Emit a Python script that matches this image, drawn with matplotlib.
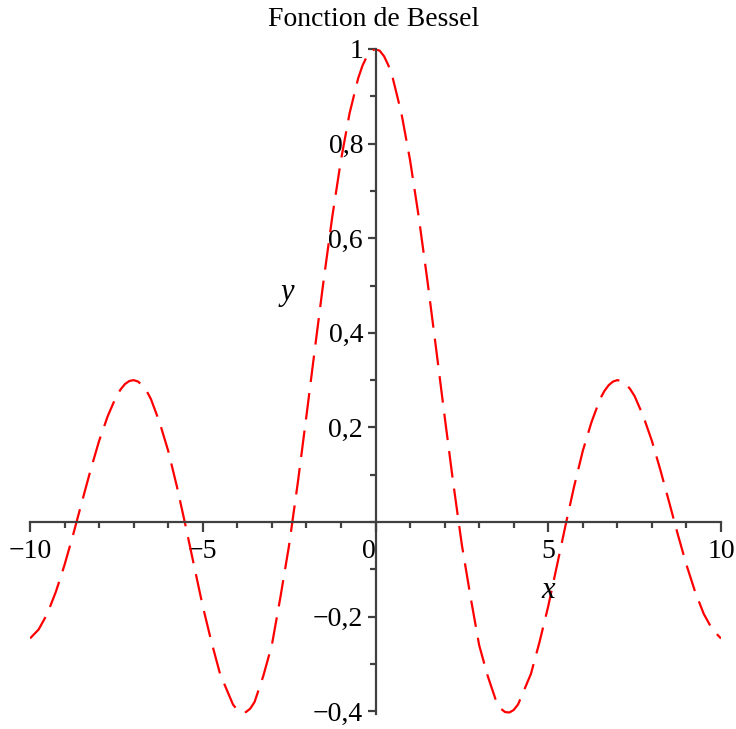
import matplotlib.pyplot as plt
from matplotlib.ticker import MultipleLocator, FuncFormatter

# Bessel J0 curve (x >= 0, mirrored for x < 0)
x_pos = [0.0, 0.125, 0.25, 0.375, 0.5, 0.75, 1.0, 1.25, 1.5, 1.75, 2.0, 2.25,
         2.5, 2.75, 3.0, 3.25, 3.5, 3.625, 3.75, 3.875, 4.0, 4.125, 4.25, 4.5,
         4.75, 5.0, 5.25, 5.5, 5.75, 6.0, 6.25, 6.5, 6.625, 6.75, 6.875, 7.0,
         7.125, 7.25, 7.375, 7.5, 7.75, 8.0, 8.25, 8.5, 8.75, 9.0, 9.25, 9.5,
         9.75, 10.0]
y_pos = [1.0, 0.9961, 0.9844, 0.9651, 0.9385, 0.8642, 0.7652, 0.6459, 0.5118,
         0.3690, 0.2239, 0.0827, -0.0484, -0.1577, -0.2601, -0.3257, -0.3801,
         -0.3942, -0.4015, -0.4024, -0.3971, -0.3855, -0.3640, -0.3205,
         -0.2527, -0.1776, -0.0926, -0.0068, 0.0758, 0.1506, 0.2110, 0.2601,
         0.2772, 0.2895, 0.2971, 0.3001, 0.2983, 0.2919, 0.2807, 0.2663,
         0.2240, 0.1717, 0.1090, 0.0419, -0.0261, -0.0903, -0.1470, -0.1939,
         -0.2270, -0.2459]

xs = [-v for v in x_pos[:0:-1]] + x_pos
ys = y_pos[:0:-1] + y_pos

x_major = [-10, -5, 0, 5, 10]
y_major = [-0.4, -0.2, 0.2, 0.4, 0.6, 0.8, 1.0]

plt.rcParams['font.family'] = ['Liberation Serif', 'DejaVu Serif']

fig = plt.figure(figsize=(7.36, 7.29), dpi=100)
ax = fig.add_axes([30 / 736, 1 - 714 / 729, 691 / 736, 665 / 729])

ax.plot(xs, ys, color='#ff0000', lw=1.6, dashes=(12, 5))

ax.set_xlim(-10, 10)
ax.set_ylim(-0.4056, 1.0)

axis_col = '#404040'
for s in ['top', 'right']:
    ax.spines[s].set_visible(False)
ax.spines['left'].set_position(('data', 0))
ax.spines['bottom'].set_position(('data', 0))
for s in ['left', 'bottom']:
    ax.spines[s].set_color(axis_col)
    ax.spines[s].set_linewidth(1.6)

ax.set_xticks(x_major)
ax.xaxis.set_minor_locator(MultipleLocator(1))
ax.set_yticks(y_major)
ax.yaxis.set_minor_locator(MultipleLocator(0.1))


def fmt(v, pos):
    if abs(v - round(v)) < 1e-9:
        s = str(int(round(v)))
    else:
        s = f'{v:.1f}'
    return s.replace('-', '\u2212').replace('.', ',')


ax.xaxis.set_major_formatter(FuncFormatter(fmt))
ax.yaxis.set_major_formatter(FuncFormatter(fmt))
ax.tick_params(axis='x', which='major', direction='out', length=7, width=1.6,
               color=axis_col, labelsize=20, pad=5)
ax.tick_params(axis='y', which='major', direction='out', length=6, width=1.6,
               color=axis_col, labelsize=20, pad=3)
ax.tick_params(axis='both', which='minor', direction='out', length=4, width=1.6,
               color=axis_col)
for lbl in ax.get_xticklabels():
    if lbl.get_text() == '0':
        lbl.set_horizontalalignment('right')

ax.text(4.99, -0.144, 'x', fontsize=22, style='italic', ha='center', va='center')
ax.text(-2.56, 0.486, 'y', fontsize=22, style='italic', ha='center', va='center')
fig.text(374 / 736, 1 - 20 / 729, 'Fonction de Bessel', fontsize=20,
         ha='center', va='center')

fig.savefig('out.png', dpi=100)
